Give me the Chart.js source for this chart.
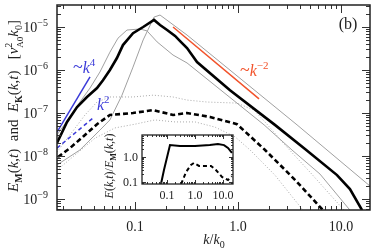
<!DOCTYPE html>
<html>
<head>
<meta charset="utf-8">
<script src="https://cdn.jsdelivr.net/npm/chart.js@4.4.1/dist/chart.umd.min.js"></script>
<style>
  html, body { margin: 0; padding: 0; background: #fff; }
  #wrap { position: relative; width: 374px; height: 249px; }
  #mainChart { position: absolute; left: 0; top: 0; }
  #insetChart { position: absolute; left: 100px; top: 128px; }
</style>
</head>
<body>
<div id="wrap">
  <canvas id="mainChart" width="374" height="249"></canvas>
  <canvas id="insetChart" width="140" height="80"></canvas>
</div>
<script>
// spectra (k/k0 and energy)
const kThick = [0.0175, 0.0219, 0.0274, 0.0342, 0.0428, 0.0489, 0.0571, 0.0668, 0.0764, 0.0957, 0.120, 0.153, 0.175, 0.205, 0.245, 0.274, 0.320, 0.400, 0.836, 2.28, 4.47, 9.14, 12.2, 16.0];
const eThick = [2.0e-8, 6.2e-8, 1.38e-7, 2.36e-7, 3.8e-7, 5.8e-7, 1.0e-6, 1.9e-6, 3.8e-6, 7.2e-6, 1.0e-5, 1.46e-5, 1.11e-5, 8.5e-6, 6.2e-6, 4.7e-6, 3.25e-6, 1.53e-6, 3.4e-7, 5.3e-8, 1.46e-8, 3.6e-9, 1.7e-9, 5.5e-10];

const kGrayA = [0.0175, 0.0234, 0.0292, 0.0366, 0.0457, 0.0571, 0.0684, 0.0836, 0.112, 0.131, 0.164, 0.234, 0.320, 1.79, 3.34, 6.25, 12.2];
const eGrayA = [3.1e-8, 8.1e-8, 1.8e-7, 3.8e-7, 9.0e-7, 2.6e-6, 5.5e-6, 8.5e-6, 9.0e-6, 8.1e-6, 4.5e-6, 2.23e-6, 1.46e-6, 5.3e-8, 1.38e-8, 3.8e-9, 5.5e-10];

const kGrayB = [0.0175, 0.0292, 0.0457, 0.0571, 0.0748, 0.0957, 0.120, 0.153, 0.175, 0.320, 3.74, 19.1];
const eGrayB = [6.2e-9, 1.38e-8, 4.0e-8, 6.9e-8, 2.6e-7, 1.17e-6, 5.0e-6, 1.7e-5, 1.9e-5, 6.5e-6, 5.3e-8, 2.0e-9];

const kDotHi = [0.0175, 0.0234, 0.0327, 0.0428, 0.0571, 0.0957, 0.150, 0.234, 0.320, 0.500, 0.977, 1.43, 1.91, 2.86, 5.0, 10.7];
const eDotHi = [1.24e-8, 3.1e-8, 9.0e-8, 1.8e-7, 2.36e-7, 2.36e-7, 2.6e-7, 2.36e-7, 2.0e-7, 1.8e-7, 1.7e-7, 1.17e-7, 5.5e-8, 1.8e-8, 4.2e-9, 5.5e-10];

const kDash = [0.0179, 0.0234, 0.0313, 0.0428, 0.0571, 0.0957, 0.150, 0.234, 0.320, 0.535, 0.977, 1.83, 3.57, 6.68];
const eDash = [9.5e-9, 1.53e-8, 2.8e-8, 5.5e-8, 9.0e-8, 1.0e-7, 1.17e-7, 9.0e-8, 1.0e-7, 8.1e-8, 5.5e-8, 1.38e-8, 2.8e-9, 5.5e-10];

const kDotLo = [0.0175, 0.0261, 0.0409, 0.064, 0.1, 0.156, 0.245, 0.383, 0.598, 0.935, 1.31, 2.28, 4.27];
const eDotLo = [4.7e-9, 1.05e-8, 2.6e-8, 4.5e-8, 5.5e-8, 6.9e-8, 6.2e-8, 6.2e-8, 4.7e-8, 2.8e-8, 1.38e-8, 3.6e-9, 5.5e-10];

// power-law guides
const kK4 = [0.0175, 0.0366];
const eK4 = [3.6e-8, 6.9e-7];
const kK2 = [0.0175, 0.0391];
const eK2 = [1.53e-8, 7.64e-8];
const kKm2 = [0.234, 1.60];
const eKm2 = [1.0e-5, 2.14e-7];

// inset ratio E(k,t)/E_M(k,t)
const kRatioA = [0.061, 0.078, 0.128, 0.29, 1.0, 3.4, 6.6, 10.9, 15.1, 20.9];
const rRatioA = [0.083, 0.30, 3.0, 2.75, 2.75, 3.0, 3.3, 3.0, 2.3, 1.45];
const kRatioB = [0.32, 0.48, 0.72, 0.92, 1.39, 2.28, 3.73, 5.6, 9.2, 15.1, 20.9];
const rRatioB = [0.083, 0.25, 0.48, 0.58, 0.44, 0.44, 0.44, 0.30, 0.16, 0.12, 0.17];

// tick labels
const xTickVals = [0.1, 1, 10];
const xTickText = ["0.1", "1.0", "10.0"];
const yTickExp = [-5, -6, -7, -8, -9];
const insetXText = ["0.1", "1.0", "10.0"];
const insetYVals = [1, 0.1];
const insetYText = ["1.0", "0.1"];

const SERIF = "'Liberation Serif', 'DejaVu Serif', serif";
const BLUE = "#3a3ad8";
const ORANGE = "#f2522a";

function pts(ks, es) {
  return ks.map((k, i) => ({ x: k, y: es[i] }));
}

function lineSet(ks, es, color, width, dash) {
  return {
    data: pts(ks, es),
    borderColor: color,
    borderWidth: width,
    borderDash: dash || [],
    pointRadius: 0,
    tension: 0,
    fill: false,
  };
}

// text with italic / sub / sup pieces
function fontOf(p, size) {
  return (p.i ? "italic " : "") + (p.b ? "bold " : "") +
    Math.round(size * (p.s || 1)) + "px " + SERIF;
}

function richWidth(ctx, parts, size) {
  let w = 0, pend = 0;
  parts.forEach((p) => {
    ctx.font = fontOf(p, size);
    const pw = ctx.measureText(p.t).width;
    if (p.stack) { pend = pw; return; }
    w += Math.max(pw, pend);
    pend = 0;
  });
  return w;
}

function drawRich(ctx, parts, x, y, size, align, color) {
  const w = richWidth(ctx, parts, size);
  let cx = align === "center" ? x - w / 2 : align === "right" ? x - w : x;
  let pend = 0;
  ctx.fillStyle = color || "#000";
  ctx.textAlign = "left";
  ctx.textBaseline = "alphabetic";
  parts.forEach((p) => {
    ctx.font = fontOf(p, size);
    const pw = ctx.measureText(p.t).width;
    ctx.fillText(p.t, cx, y + (p.dy || 0) * size);
    if (p.stack) { pend = pw; return; }
    cx += Math.max(pw, pend);
    pend = 0;
  });
}

// inward log ticks on all four sides + frame
function drawLogFrame(ctx, chart, major, minor, lw) {
  const a = chart.chartArea;
  const xs = chart.scales.x, ys = chart.scales.y;
  ctx.save();
  ctx.strokeStyle = "#333";
  ctx.lineWidth = 1;
  ctx.beginPath();
  const each = (sc, fn) => {
    const e0 = Math.floor(Math.log10(sc.min)), e1 = Math.ceil(Math.log10(sc.max));
    for (let e = e0; e <= e1; e++) {
      for (let m = 1; m <= 9; m++) {
        const v = m * Math.pow(10, e);
        if (v < sc.min || v > sc.max) continue;
        fn(sc.getPixelForValue(v), m === 1 ? major : minor);
      }
    }
  };
  each(xs, (px, len) => {
    px = Math.round(px) + 0.5;
    ctx.moveTo(px, a.bottom); ctx.lineTo(px, a.bottom - len);
    ctx.moveTo(px, a.top); ctx.lineTo(px, a.top + len);
  });
  each(ys, (py, len) => {
    py = Math.round(py) + 0.5;
    ctx.moveTo(a.left, py); ctx.lineTo(a.left + len, py);
    ctx.moveTo(a.right, py); ctx.lineTo(a.right - len, py);
  });
  ctx.stroke();
  ctx.lineWidth = lw;
  ctx.strokeStyle = "#222";
  ctx.strokeRect(a.left, a.top, a.right - a.left, a.bottom - a.top);
  ctx.restore();
}

const mainDecor = {
  id: "mainDecor",
  afterDraw(chart) {
    const ctx = chart.ctx;
    const a = chart.chartArea;
    drawLogFrame(ctx, chart, 8, 4, 1.5);

    // x tick labels
    ctx.save();
    ctx.font = "14px " + SERIF;
    ctx.fillStyle = "#222";
    ctx.textAlign = "center";
    xTickVals.forEach((v, i) => {
      ctx.fillText(xTickText[i], chart.scales.x.getPixelForValue(v), a.bottom + 21);
    });
    ctx.restore();

    // y tick labels 10^n
    yTickExp.forEach((e) => {
      const py = chart.scales.y.getPixelForValue(Math.pow(10, e));
      drawRich(ctx, [{ t: "10" }, { t: "\u2212" + Math.abs(e), s: 0.68, dy: -0.42 }], 48, py + 5, 14, "right", "#222");
    });

    // axis titles
    drawRich(ctx, [{ t: "k", i: true }, { t: "/" }, { t: "k", i: true }, { t: "0", s: 0.7, dy: 0.25 }], 214, 244, 14, "center", "#222");

    ctx.save();
    ctx.translate(0, 106);
    ctx.rotate(-Math.PI / 2);
    const sub = (t) => ({ t: t, s: 0.65, dy: 0.25, b: true });
    drawRich(ctx, [
      { t: "E", i: true }, sub("M"), { t: "(" }, { t: "k", i: true }, { t: "," }, { t: "t", i: true }, { t: ")  and  " },
      { t: "E", i: true }, sub("K"), { t: "(" }, { t: "k", i: true }, { t: "," }, { t: "t", i: true }, { t: ")   [" },
      { t: "v", i: true }, { t: "2", s: 0.65, dy: -0.4, stack: true }, { t: "A0", s: 0.6, dy: 0.3 },
      { t: "k", i: true }, { t: "0", s: 0.65, dy: 0.25 }, { t: "]" },
    ], 0, 18, 15, "center", "#222");
    ctx.restore();

    // panel tag and slope notes
    drawRich(ctx, [{ t: "(b)" }], 348, 29, 16, "center", "#222");
    drawRich(ctx, [{ t: "~", s: 1.1 }, { t: "k", i: true }, { t: "\u22122", s: 0.68, dy: -0.45 }], 240, 76, 16, "left", ORANGE);
    drawRich(ctx, [{ t: "~", s: 1.1 }, { t: "k", i: true }, { t: "4", s: 0.68, dy: -0.45 }], 73, 73, 16, "left", BLUE);
    drawRich(ctx, [{ t: "k", i: true }, { t: "2", s: 0.68, dy: -0.45 }], 97, 110, 16, "left", BLUE);
  },
};

new Chart(document.getElementById("mainChart"), {
  type: "line",
  data: {
    datasets: [
      lineSet(kK4, eK4, BLUE, 1.5),
      lineSet(kK2, eK2, BLUE, 1.5, [4, 3]),
      lineSet(kKm2, eKm2, ORANGE, 1.5),
      lineSet(kThick, eThick, "#000", 2.6),
      lineSet(kDash, eDash, "#000", 2.6, [5, 3]),
      lineSet(kGrayA, eGrayA, "#a0a0a0", 1),
      lineSet(kGrayB, eGrayB, "#a0a0a0", 1),
      lineSet(kDotHi, eDotHi, "#a8a8a8", 1, [1, 2]),
      lineSet(kDotLo, eDotLo, "#a8a8a8", 1, [1, 2]),
    ],
  },
  options: {
    responsive: false,
    animation: false,
    layout: { padding: { left: 57, top: 5, right: 4, bottom: 39 } },
    plugins: { legend: { display: false }, tooltip: { enabled: false } },
    scales: {
      x: { type: "logarithmic", min: 0.0175, max: 19.1, display: false },
      y: { type: "logarithmic", min: 5.55e-10, max: 3.25e-5, display: false },
    },
  },
  plugins: [mainDecor],
});

// inset panel
const insetDecor = {
  id: "insetDecor",
  beforeDatasetsDraw(chart) {
    const a = chart.chartArea;
    chart.ctx.save();
    chart.ctx.fillStyle = "#fff";
    chart.ctx.fillRect(a.left, a.top, a.right - a.left, a.bottom - a.top);
    chart.ctx.restore();
  },
  afterDraw(chart) {
    const ctx = chart.ctx;
    const a = chart.chartArea;
    drawLogFrame(ctx, chart, 4, 2, 1.3);
    ctx.save();
    ctx.font = "12px " + SERIF;
    ctx.fillStyle = "#222";
    ctx.textAlign = "center";
    xTickVals.forEach((v, i) => {
      ctx.fillText(insetXText[i], chart.scales.x.getPixelForValue(v), a.bottom + 15);
    });
    ctx.textAlign = "right";
    insetYVals.forEach((v, i) => {
      ctx.fillText(insetYText[i], a.left - 4, chart.scales.y.getPixelForValue(v) + 4);
    });
    ctx.restore();

    ctx.save();
    ctx.translate(0, 38);
    ctx.rotate(-Math.PI / 2);
    drawRich(ctx, [
      { t: "E", i: true }, { t: "(" }, { t: "k", i: true }, { t: "," }, { t: "t", i: true }, { t: ")/" },
      { t: "E", i: true }, { t: "M", s: 0.65, dy: 0.25, b: true }, { t: "(" }, { t: "k", i: true }, { t: "," }, { t: "t", i: true }, { t: ")" },
    ], 0, 13, 12, "center", "#222");
    ctx.restore();
  },
};

new Chart(document.getElementById("insetChart"), {
  type: "line",
  data: {
    datasets: [
      lineSet(kRatioA, rRatioA, "#000", 2),
      lineSet(kRatioB, rRatioB, "#000", 2, [4, 3]),
    ],
  },
  options: {
    responsive: false,
    animation: false,
    layout: { padding: { left: 42, top: 7, right: 7, bottom: 24 } },
    plugins: { legend: { display: false }, tooltip: { enabled: false } },
    scales: {
      x: { type: "logarithmic", min: 0.0128, max: 22.8, display: false },
      y: { type: "logarithmic", min: 0.083, max: 7.6, display: false },
    },
  },
  plugins: [insetDecor],
});
</script>
</body>
</html>
